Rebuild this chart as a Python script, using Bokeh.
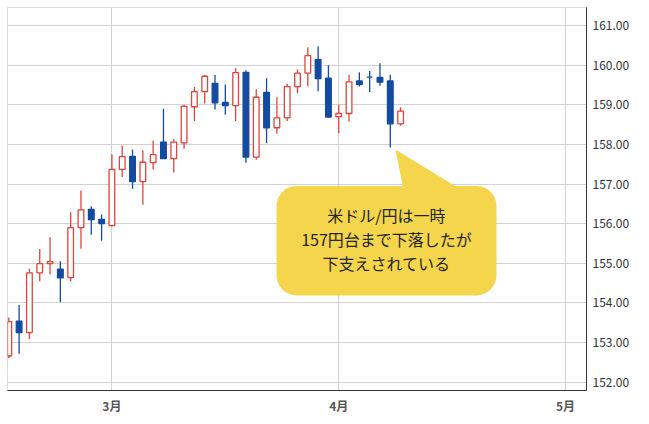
from bokeh.plotting import figure
from bokeh.models import (ColumnDataSource, FixedTicker, NumeralTickFormatter,
                          Range1d, BoxAnnotation, PolyAnnotation, Label)
from bokeh.embed import file_html
from bokeh.resources import INLINE

# ---- data (daily candles) ----
idx = list(range(39))
opens  = [152.66, 153.54, 153.25, 154.76, 154.99, 154.85, 154.64, 155.90, 156.36, 156.11,
          155.95, 157.37, 157.70, 157.06, 157.54, 158.06, 157.64, 158.04, 158.95, 159.33,
          159.54, 159.06, 158.98, 159.82, 157.68, 159.31, 158.42, 158.67, 159.46, 159.80,
          160.14, 159.67, 158.70, 158.78, 159.60, 159.70, 159.69, 159.60, 158.52]
highs  = [153.63, 153.95, 154.86, 155.36, 155.66, 155.05, 156.29, 156.84, 156.44, 156.23,
          157.75, 157.97, 157.87, 157.85, 158.10, 158.90, 158.14, 159.00, 159.45, 159.75,
          159.75, 159.51, 159.92, 159.87, 159.39, 159.67, 159.19, 159.53, 159.89, 160.45,
          160.48, 160.00, 159.01, 159.76, 159.82, 159.85, 160.05, 159.76, 158.94]
lows   = [152.61, 152.72, 153.09, 154.55, 154.72, 154.02, 154.55, 155.37, 155.72, 155.57,
          155.93, 157.18, 156.88, 156.48, 157.37, 157.64, 157.29, 157.89, 158.59, 159.03,
          158.88, 158.75, 158.59, 157.54, 157.61, 158.03, 158.27, 158.59, 159.29, 159.47,
          159.34, 158.68, 158.28, 158.58, 159.46, 159.32, 159.48, 157.92, 158.47]
closes = [153.53, 153.25, 154.76, 154.99, 155.04, 154.63, 155.90, 156.35, 156.10, 156.00,
          157.37, 157.69, 157.06, 157.55, 157.74, 157.64, 158.06, 158.96, 159.33, 159.72,
          159.05, 158.98, 159.81, 157.68, 159.19, 158.42, 158.67, 159.46, 159.80, 160.24,
          159.66, 158.69, 158.78, 159.58, 159.51, 159.70, 159.57, 158.52, 158.84]

month_ticks = [10, 32, 54]
month_labels = ["3月", "4月", "5月"]

note_lines = ["米ドル/円は一時", "157円台まで下落したが", "下支えされている"]

UP = "#E2433B"
DOWN = "#124B9F"
NOTE = "#F5D54C"

up = [c > o for o, c in zip(opens, closes)]
src = ColumnDataSource(dict(
    x=idx, high=highs, low=lows,
    top=[max(o, c) for o, c in zip(opens, closes)],
    bottom=[min(o, c) for o, c in zip(opens, closes)],
    line=[UP if u else DOWN for u in up],
    fill=["white" if u else DOWN for u in up],
))

p = figure(width=645, height=417,
           x_range=Range1d(-0.126, 56.03), y_range=Range1d(151.79, 161.455),
           y_axis_location="right", output_backend="svg", toolbar_location=None,
           min_border_left=7, min_border_top=7, min_border_right=59, min_border_bottom=27,
           background_fill_color="white", border_fill_color="white")

p.outline_line_color = "#dcdcdc"

# axes
ya = p.yaxis[0]
ya.ticker = FixedTicker(ticks=[152, 153, 154, 155, 156, 157, 158, 159, 160, 161])
ya.formatter = NumeralTickFormatter(format="0.00")
ya.major_tick_in = 0
ya.major_tick_out = 0
ya.minor_tick_in = 0
ya.minor_tick_out = 0
ya.major_label_standoff = 6
ya.axis_line_color = "#333333"
ya.major_label_text_font = "Noto Sans CJK JP"
ya.major_label_text_font_size = "12px"
ya.major_label_text_color = "#333333"

xa = p.xaxis[0]
xa.ticker = FixedTicker(ticks=month_ticks)
xa.major_label_overrides = {t: l for t, l in zip(month_ticks, month_labels)}
xa.major_tick_in = 0
xa.major_tick_out = 0
xa.minor_tick_in = 0
xa.minor_tick_out = 0
xa.major_label_standoff = 6
xa.axis_line_color = "#333333"
xa.major_label_text_font = "Noto Sans CJK JP"
xa.major_label_text_font_size = "12px"
xa.major_label_text_font_style = "bold"
xa.major_label_text_color = "#555555"

p.xgrid.grid_line_color = "#d2d2d2"
p.ygrid.grid_line_color = "#d2d2d2"

# candles
p.segment(x0="x", y0="high", x1="x", y1="low", line_color="line", line_width=1.3, source=src)
p.vbar(x="x", top="top", bottom="bottom", width=0.55, fill_color="fill",
       line_color="line", line_width=1.3, source=src)

# callout
p.add_layout(BoxAnnotation(left=25.97, right=47.3, top=156.95, bottom=154.19,
                           fill_color=NOTE, fill_alpha=1.0, line_color=None,
                           border_radius=20))
p.add_layout(PolyAnnotation(xs=[37.5, 38.25, 43.6], ys=[157.87, 156.9, 156.9],
                            fill_color=NOTE, fill_alpha=1.0, line_color=None))

for ty, txt in zip([156.23, 155.61, 155.01], note_lines):
    p.add_layout(Label(x=36.63, y=ty, text=txt, text_align="center",
                       text_baseline="middle", text_font="Noto Sans CJK JP",
                       text_font_size="16px", text_color="#262626"))

open("out.html", "w").write(file_html(p, INLINE))
